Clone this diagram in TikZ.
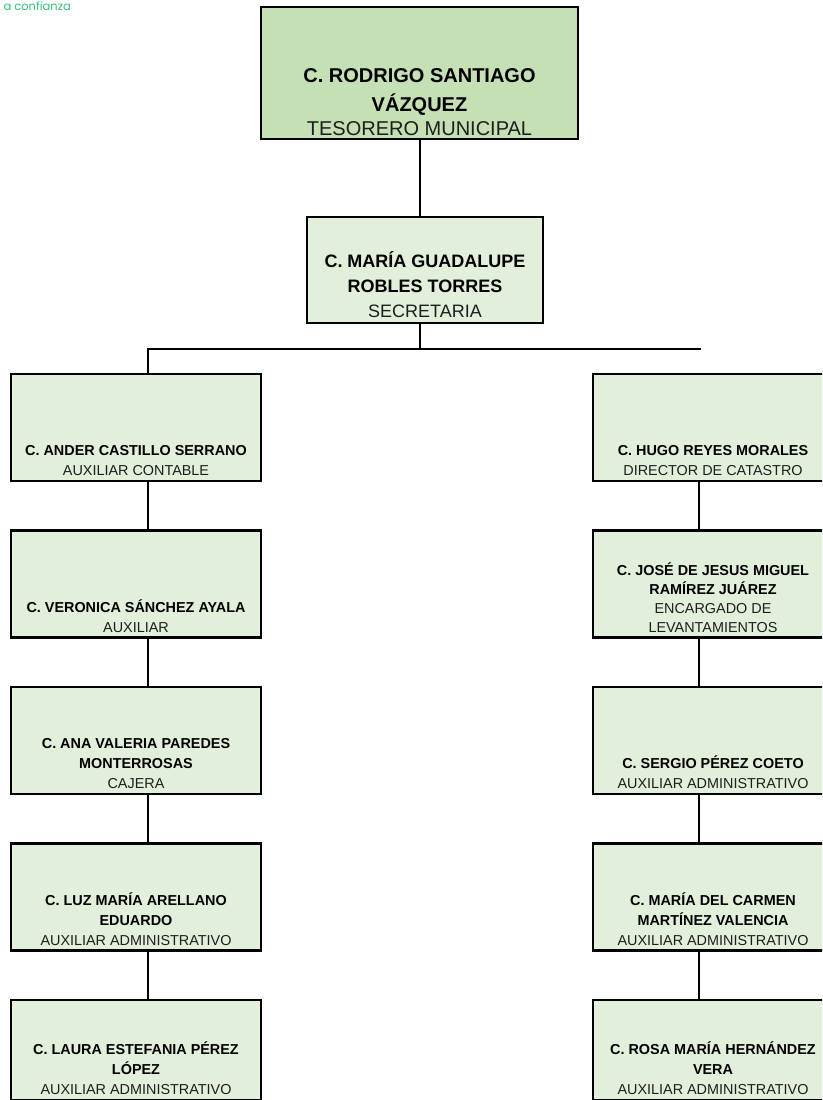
\documentclass[tikz,border=0pt]{standalone}
\usepackage{fontspec}
\setmainfont{Liberation Sans}
\newfontfamily\conffont{Poppins}
\usepackage{xcolor}
\usetikzlibrary{positioning}

\definecolor{topgreen}{HTML}{C5E0B4}
\definecolor{cellgreen}{HTML}{E2EFDA}
\definecolor{confgreen}{HTML}{34C27A}
\definecolor{rolegray}{HTML}{1E1E1E}

% name in bold, post in plain
\newcommand{\who}[1]{{\bfseries #1}}
\newcommand{\post}[1]{{\color{rolegray}#1}}
% bottom aligned text of a box: [gap]{height}{width}{size}{skip}{lines}
\newcommand{\orgbox}[6][5pt]{%
  \parbox[c][#2][b]{#3}{\centering\fontsize{#4}{#5}\selectfont #6\par\vspace{#1}}}
\newcommand{\cell}[2][20pt]{\orgbox{107pt}{250pt}{14.4}{#1}{#2}}
\newcommand{\rcell}[2][20pt]{\orgbox{107pt}{240pt}{14.4}{#1}{#2}}
\newcommand{\lastcell}[2]{\orgbox{100pt}{#1}{14.4}{20pt}{#2}}

\begin{document}
\begin{tikzpicture}[x=1pt,y=-1pt,node distance=49.5pt,
                    org node/.style={draw,line width=2.1pt,fill=cellgreen,inner sep=0pt,outer sep=0pt,text=black},
                    link/.style={line width=2pt,black}]

  \clip (0,0) rectangle (822,1100);
  \fill[white] (0,0) rectangle (822,1100);

  \node[anchor=base west,text=confgreen,font=\conffont\fontsize{11.5}{14}\selectfont] (conf) at (0,10) {a confianza};

  \node[org node,fill=topgreen,anchor=north west] (tes) at (261,7)
    {\orgbox[3pt]{132pt}{317pt}{20}{24}{\who{C. RODRIGO SANTIAGO}\\[5pt]\who{VÁZQUEZ}\\\post{TESORERO MUNICIPAL}}};
  \node[org node,anchor=north west] (sec) at (307,217)
    {\orgbox{106pt}{236pt}{18}{25}{\who{C. MARÍA GUADALUPE}\\\who{ROBLES TORRES}\\\post{SECRETARIA}}};

  % left column
  \node[org node,anchor=north west] (l1) at (11,374)
    {\cell{\who{C. ANDER CASTILLO SERRANO}\\\post{AUXILIAR CONTABLE}}};
  \node[org node] (l2) [below=of l1]
    {\cell{\who{C. VERONICA SÁNCHEZ AYALA}\\\post{AUXILIAR}}};
  \node[org node] (l3) [below=of l2]
    {\cell{\who{C. ANA VALERIA PAREDES}\\\who{MONTERROSAS}\\\post{CAJERA}}};
  \node[org node] (l4) [below=of l3]
    {\cell{\who{C. LUZ MARÍA ARELLANO}\\\who{EDUARDO}\\\post{AUXILIAR ADMINISTRATIVO}}};
  \node[org node] (l5) [below=of l4]
    {\lastcell{250pt}{\who{C. LAURA ESTEFANIA PÉREZ}\\\who{LÓPEZ}\\\post{AUXILIAR ADMINISTRATIVO}}};

  % right column
  \node[org node,anchor=north west] (r1) at (593,374)
    {\rcell{\who{C. HUGO REYES MORALES}\\\post{DIRECTOR DE CATASTRO}}};
  \node[org node] (r2) [below=of r1]
    {\rcell[19pt]{\who{C. JOSÉ DE JESUS MIGUEL}\\\who{RAMÍREZ JUÁREZ}\\\post{ENCARGADO DE}\\\post{LEVANTAMIENTOS}}};
  \node[org node] (r3) [below=of r2]
    {\rcell{\who{C. SERGIO PÉREZ COETO}\\\post{AUXILIAR ADMINISTRATIVO}}};
  \node[org node] (r4) [below=of r3]
    {\rcell{\who{C. MARÍA DEL CARMEN}\\\who{MARTÍNEZ VALENCIA}\\\post{AUXILIAR ADMINISTRATIVO}}};
  \node[org node] (r5) [below=of r4]
    {\lastcell{240pt}{\who{C. ROSA MARÍA HERNÁNDEZ}\\\who{VERA}\\\post{AUXILIAR ADMINISTRATIVO}}};

  \coordinate (mx) at (419.5,0);
  \coordinate (lx) at (148,0);
  \coordinate (rx) at (699,0);
  \coordinate (busl) at (148,349);
  \coordinate (busr) at (701,349);

  \draw[link] (tes.south -| mx) -- (sec.north -| mx);
  \draw[link] (sec.south -| mx) -- (mx |- busl);
  \draw[link] (busr) -- (busl) -- (l1.north -| lx);
  \foreach \a/\b in {l1/l2,l2/l3,l3/l4,l4/l5}
    \draw[link] (\a.south -| lx) -- (\b.north -| lx);
  \foreach \a/\b in {r1/r2,r2/r3,r3/r4,r4/r5}
    \draw[link] (\a.south -| rx) -- (\b.north -| rx);
\end{tikzpicture}
\end{document}
